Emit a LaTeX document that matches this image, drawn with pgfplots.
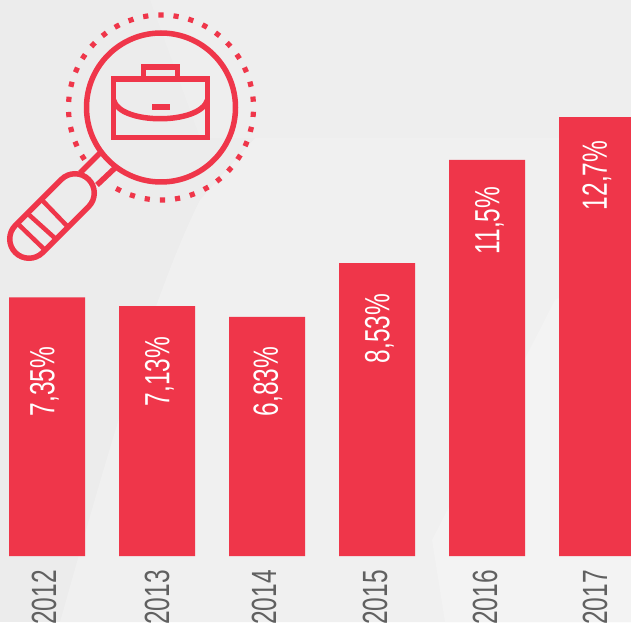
\documentclass[border=0pt]{standalone}
\usepackage{pgfplots}
\pgfplotsset{compat=1.18}
\usepackage{fontspec}
\setmainfont[FakeStretch=0.7]{Liberation Sans}
\definecolor{barred}{HTML}{EF364A}
\definecolor{yeargray}{HTML}{606060}
\pgfplotstableread{
x value
0 7.35
1 7.10
2 6.79
3 8.32
4 11.25
5 12.47
}\bardata
\begin{document}
\begin{tikzpicture}[x=1pt,y=1pt]
\clip (0,0) rectangle (631,622);
\fill[fill={rgb,255:red,236;green,236;blue,236}] (0,0) rectangle (631,622);
\begin{scope}[y=-1pt,yshift=622pt]
\fill[fill={rgb,255:red,238;green,238;blue,238}] (150,0) -- (631,0) -- (631,138) -- (200,138) -- cycle;
\fill[fill={rgb,255:red,240;green,240;blue,240}] (60,622) .. controls (100,480) and (150,300) .. (200,200) -- (255,138) -- (631,138) -- (631,622) -- cycle;
\fill[fill={rgb,255:red,243;green,243;blue,243}] (445,622) -- (432,540) -- (555,300) -- (631,260) -- (631,622) -- cycle;
\end{scope}
\begin{axis}[
  at={(0pt,0pt)}, anchor=south west,
  width=631pt, height=622pt, scale only axis,
  hide axis,
  xmin=-0.42727, xmax=5.30909,
  ymin=-1.875, ymax=15.795,
  ybar, bar width=76pt, bar shift=0pt,
]
\addplot[fill=barred, draw=none] table[x=x,y=value] {\bardata};
\end{axis}
\begin{scope}[y=-1pt,yshift=622pt]
% value labels
\foreach \px/\py/\t in {44.5/381.5/{7,35\%},159.5/371.5/{7,13\%},268/381.5/{6,83\%},379.5/328.5/{8,53\%},489.5/220.5/{11,5\%},597/175.5/{12,7\%}}
  \node[rotate=90,text=white,font=\fontsize{35}{35}\selectfont,inner sep=0pt] at (\px,\py) {\t};
% year labels
\foreach \px/\t in {44/2012,157/2013,264/2014,375/2015,485/2016,595/2017}
  \node[rotate=90,anchor=east,text=yeargray,font=\fontsize{35}{35}\selectfont,inner sep=0pt] at (\px,570) {\t};
% magnifier icon
\begin{scope}[draw=barred,line width=5.5pt]
\draw (161,107.5) circle[radius=74.5pt];
\foreach \i in {0,...,35}{
  \pgfmathsetmacro{\a}{242.6+\i*9.43}
  \pgfmathsetmacro{\dx}{161+92.5*cos(\a)}
  \pgfmathsetmacro{\dy}{107.5-92.5*sin(\a)}
  \fill[barred,shift={(\dx,\dy)},rotate=\a] (-2.6pt,-2.6pt) rectangle (2.6pt,2.6pt);
}
\draw (100,153) -- (80,173);
\draw (115,168) -- (97,185);
\draw (61.4,179.4) arc (135:-45:19.25pt) -- (42.6,252.6) arc (-45:-225:19.25pt) -- cycle;
\draw[line width=4.5pt] (42,200) -- (68,227);
\draw[line width=4.5pt] (27,213) -- (57,240);
\draw[line width=4.5pt] (17,223) -- (45,250);
\draw (113.5,79) rectangle (207.5,137.5);
\draw (143.5,78) -- (143.5,67) -- (177.5,67) -- (177.5,78);
\draw (113.5,100) .. controls (120,125) and (200,125) .. (207.5,100);
\fill[barred] (152,104) rectangle (170,110);
\end{scope}
\end{scope}
\end{tikzpicture}
\end{document}
